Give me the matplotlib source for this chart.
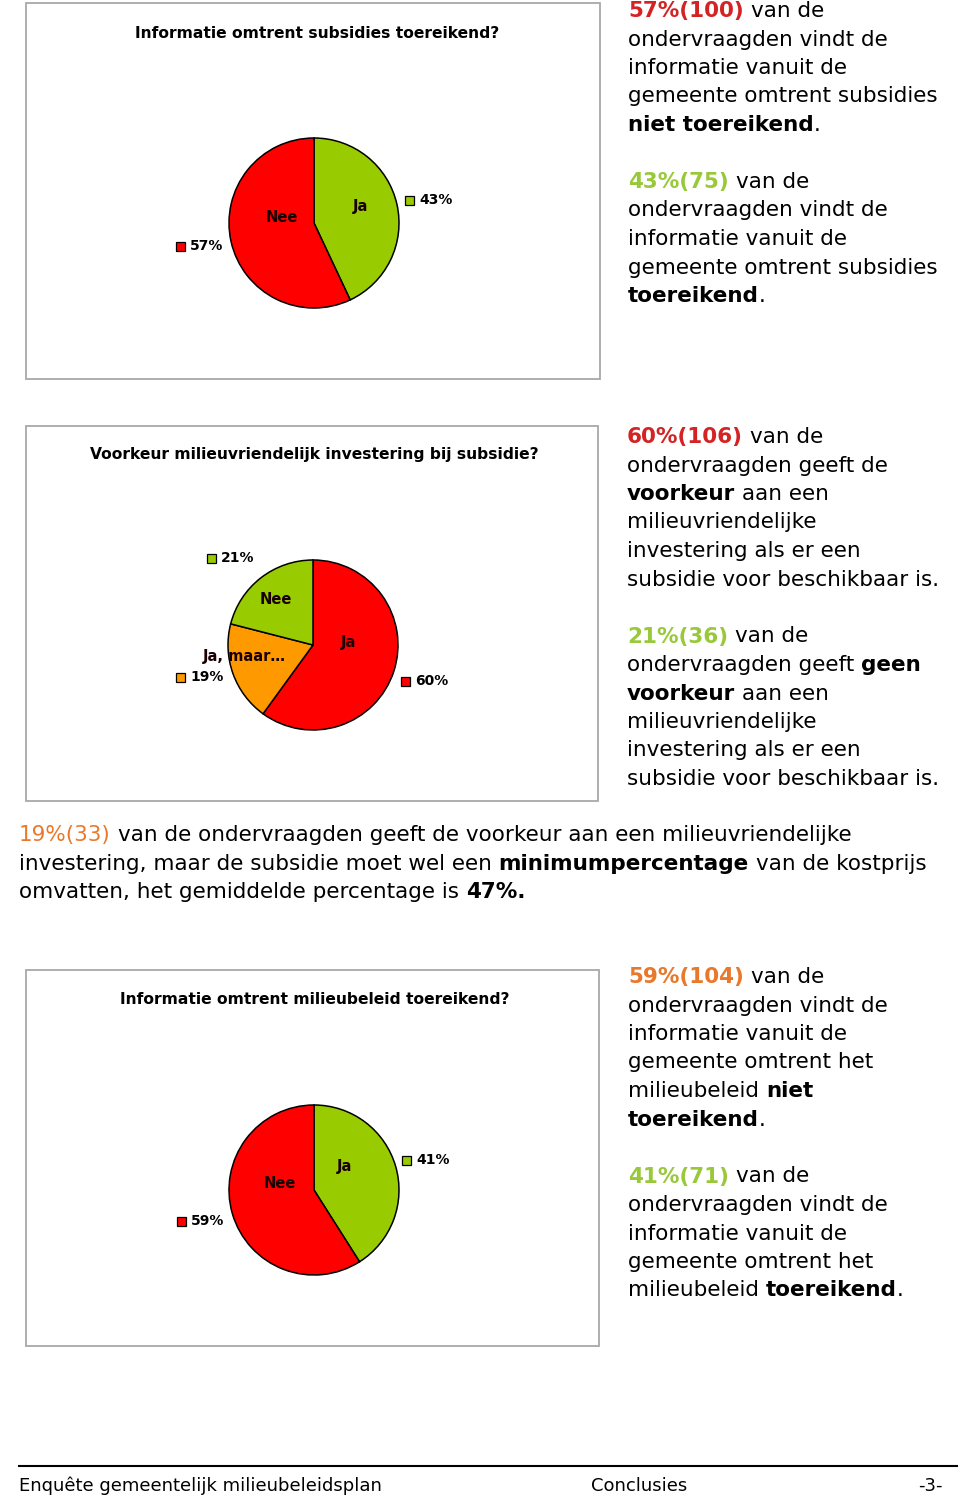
import matplotlib
matplotlib.use("Agg")
import matplotlib.pyplot as plt
from matplotlib.patches import Rectangle

W, H, DPI = 960, 1497, 100

# ---------------- colours ----------------
RED, GREEN, ORANGE = "#FF0000", "#99CC00", "#FF9900"
T_RED, T_GREEN, T_ORANGE = "#D42323", "#99C93A", "#E9782B"

# ---------------- data ----------------
c1_title = "Informatie omtrent subsidies toereikend?"
c1_labels = ["Ja", "Nee"]
c1_values = [43, 57]
c1_colors = [GREEN, RED]

c2_title = "Voorkeur milieuvriendelijk investering bij subsidie?"
c2_labels = ["Ja", "Ja, maar…", "Nee"]
c2_values = [60, 19, 21]
c2_colors = [RED, ORANGE, GREEN]

c3_title = "Informatie omtrent milieubeleid toereikend?"
c3_labels = ["Ja", "Nee"]
c3_values = [41, 59]
c3_colors = [GREEN, RED]

# text blocks: each line = list of (text, colour, weight); None = blank line
B, N = "bold", "normal"
K = "black"
block1 = [
    [("57%(100)", T_RED, B), (" van de", K, N)],
    [("ondervraagden vindt de", K, N)],
    [("informatie vanuit de", K, N)],
    [("gemeente omtrent subsidies", K, N)],
    [("niet toereikend", K, B), (".", K, N)],
    None,
    [("43%(75)", T_GREEN, B), (" van de", K, N)],
    [("ondervraagden vindt de", K, N)],
    [("informatie vanuit de", K, N)],
    [("gemeente omtrent subsidies", K, N)],
    [("toereikend", K, B), (".", K, N)],
]
block2 = [
    [("60%(106)", T_RED, B), (" van de", K, N)],
    [("ondervraagden geeft de", K, N)],
    [("voorkeur", K, B), (" aan een", K, N)],
    [("milieuvriendelijke", K, N)],
    [("investering als er een", K, N)],
    [("subsidie voor beschikbaar is.", K, N)],
    None,
    [("21%(36)", T_GREEN, B), (" van de", K, N)],
    [("ondervraagden geeft ", K, N), ("geen", K, B)],
    [("voorkeur", K, B), (" aan een", K, N)],
    [("milieuvriendelijke", K, N)],
    [("investering als er een", K, N)],
    [("subsidie voor beschikbaar is.", K, N)],
]
paragraph = [
    [("19%(33)", T_ORANGE, N), (" van de ondervraagden geeft de voorkeur aan een milieuvriendelijke", K, N)],
    [("investering, maar de subsidie moet wel een ", K, N), ("minimumpercentage", K, B), (" van de kostprijs", K, N)],
    [("omvatten, het gemiddelde percentage is ", K, N), ("47%.", K, B)],
]
block3 = [
    [("59%(104)", T_ORANGE, B), (" van de", K, N)],
    [("ondervraagden vindt de", K, N)],
    [("informatie vanuit de", K, N)],
    [("gemeente omtrent het", K, N)],
    [("milieubeleid ", K, N), ("niet", K, B)],
    [("toereikend", K, B), (".", K, N)],
    None,
    [("41%(71)", T_GREEN, B), (" van de", K, N)],
    [("ondervraagden vindt de", K, N)],
    [("informatie vanuit de", K, N)],
    [("gemeente omtrent het", K, N)],
    [("milieubeleid ", K, N), ("toereikend", K, B), (".", K, N)],
]
footer_left = "Enquête gemeentelijk milieubeleidsplan"
footer_mid = "Conclusies"
footer_right = "-3-"

# ---------------- layout ----------------
FAMILY = "DejaVu Sans"
BODY_PT = 15.5
TITLE_PT = 11.2
LABEL_PT = 10.5
PCT_PT = 10
R = 85
charts = [
    dict(box=(26, 3, 600, 379), title=c1_title, title_xy=(317, 33), center=(314, 223),
         labels=c1_labels, values=c1_values, colors=c1_colors,
         label_xy=[(360, 206), (282, 217)], key_xy=[(405, 200), (176, 246)]),
    dict(box=(26, 426, 598, 801), title=c2_title, title_xy=(314, 455), center=(313, 645),
         labels=c2_labels, values=c2_values, colors=c2_colors,
         label_xy=[(348, 643), (244, 656), (276, 600)], key_xy=[(401, 681), (176, 677), (207, 558)]),
    dict(box=(26, 970, 599, 1346), title=c3_title, title_xy=(315, 1000), center=(314, 1190),
         labels=c3_labels, values=c3_values, colors=c3_colors,
         label_xy=[(344, 1167), (280, 1184)], key_xy=[(402, 1160), (177, 1221)]),
]

fig = plt.figure(figsize=(W / DPI, H / DPI), dpi=DPI)
fig.patch.set_facecolor("white")

# pies
pad = 3
for ch in charts:
    cx, cy = ch["center"]
    ax = fig.add_axes([(cx - R - pad) / W, 1 - (cy + R + pad) / H, (2 * R + 2 * pad) / W, (2 * R + 2 * pad) / H])
    ax.pie(ch["values"], colors=ch["colors"], startangle=90, counterclock=False,
           wedgeprops=dict(edgecolor="black", linewidth=1.1))
    lim = (R + pad) / R
    ax.set_xlim(-lim, lim)
    ax.set_ylim(-lim, lim)
    ax.set_aspect("auto")
    ax.axis("off")

# overlay page axes (pixel coordinates)
page = fig.add_axes([0, 0, 1, 1])
page.set_xlim(0, W)
page.set_ylim(H, 0)
page.axis("off")
page.patch.set_alpha(0)

renderer = fig.canvas.get_renderer()
_space_cache = {}


def text_width(s, size, weight):
    t = page.text(0, 0, s, fontsize=size, fontweight=weight, family=FAMILY)
    w = t.get_window_extent(renderer=renderer).width
    t.remove()
    return w


def space_width(size, weight):
    key = (size, weight)
    if key not in _space_cache:
        _space_cache[key] = text_width("n n", size, weight) - text_width("nn", size, weight)
    return _space_cache[key]


def draw_line(x, y, segs, size):
    for s, color, weight in segs:
        lead = len(s) - len(s.lstrip(" "))
        trail = len(s) - len(s.rstrip(" "))
        core = s.strip(" ")
        x += lead * space_width(size, weight)
        if core:
            page.text(x, y, core, fontsize=size, fontweight=weight, color=color,
                      family=FAMILY, ha="left", va="baseline")
            x += text_width(core, size, weight)
        x += trail * space_width(size, weight)


def draw_block(x, y0, lines, step, size):
    for i, ln in enumerate(lines):
        if ln is not None:
            draw_line(x, y0 + i * step, ln, size)


# boxes, titles, labels, keys
for ch in charts:
    x0, y0, x1, y1 = ch["box"]
    page.add_patch(Rectangle((x0, y0), x1 - x0, y1 - y0, fill=False, edgecolor="#A8A8A8", linewidth=1.3))
    page.text(*ch["title_xy"], ch["title"], fontsize=TITLE_PT, fontweight="bold", family=FAMILY,
              ha="center", va="center")
    for lab, (lx, ly) in zip(ch["labels"], ch["label_xy"]):
        page.text(lx, ly, lab, fontsize=LABEL_PT, fontweight="bold", family=FAMILY, ha="center", va="center",
                  color="#1a0000")
    for v, col, (kx, ky) in zip(ch["values"], ch["colors"], ch["key_xy"]):
        page.add_patch(Rectangle((kx, ky - 4.5), 9, 9, facecolor=col, edgecolor="black", linewidth=0.9))
        page.text(kx + 14, ky, f"{v}%", fontsize=PCT_PT, fontweight="bold", family=FAMILY, ha="left", va="center")

STEP = 28.5
draw_block(628, 17, block1, STEP, BODY_PT)
draw_block(627, 443, block2, STEP, BODY_PT)
draw_block(19, 841, paragraph, STEP, BODY_PT)
draw_block(628, 983, block3, STEP, BODY_PT)

# footer
page.plot([19, 957], [1466, 1466], color="black", linewidth=1.5)
FOOT_PT = 13
page.text(19, 1491, footer_left, fontsize=FOOT_PT, family=FAMILY, ha="left", va="baseline")
page.text(591, 1491, footer_mid, fontsize=FOOT_PT, family=FAMILY, ha="left", va="baseline")
page.text(943, 1491, footer_right, fontsize=FOOT_PT, family=FAMILY, ha="right", va="baseline")

fig.savefig("out.png", dpi=DPI, facecolor="white")
